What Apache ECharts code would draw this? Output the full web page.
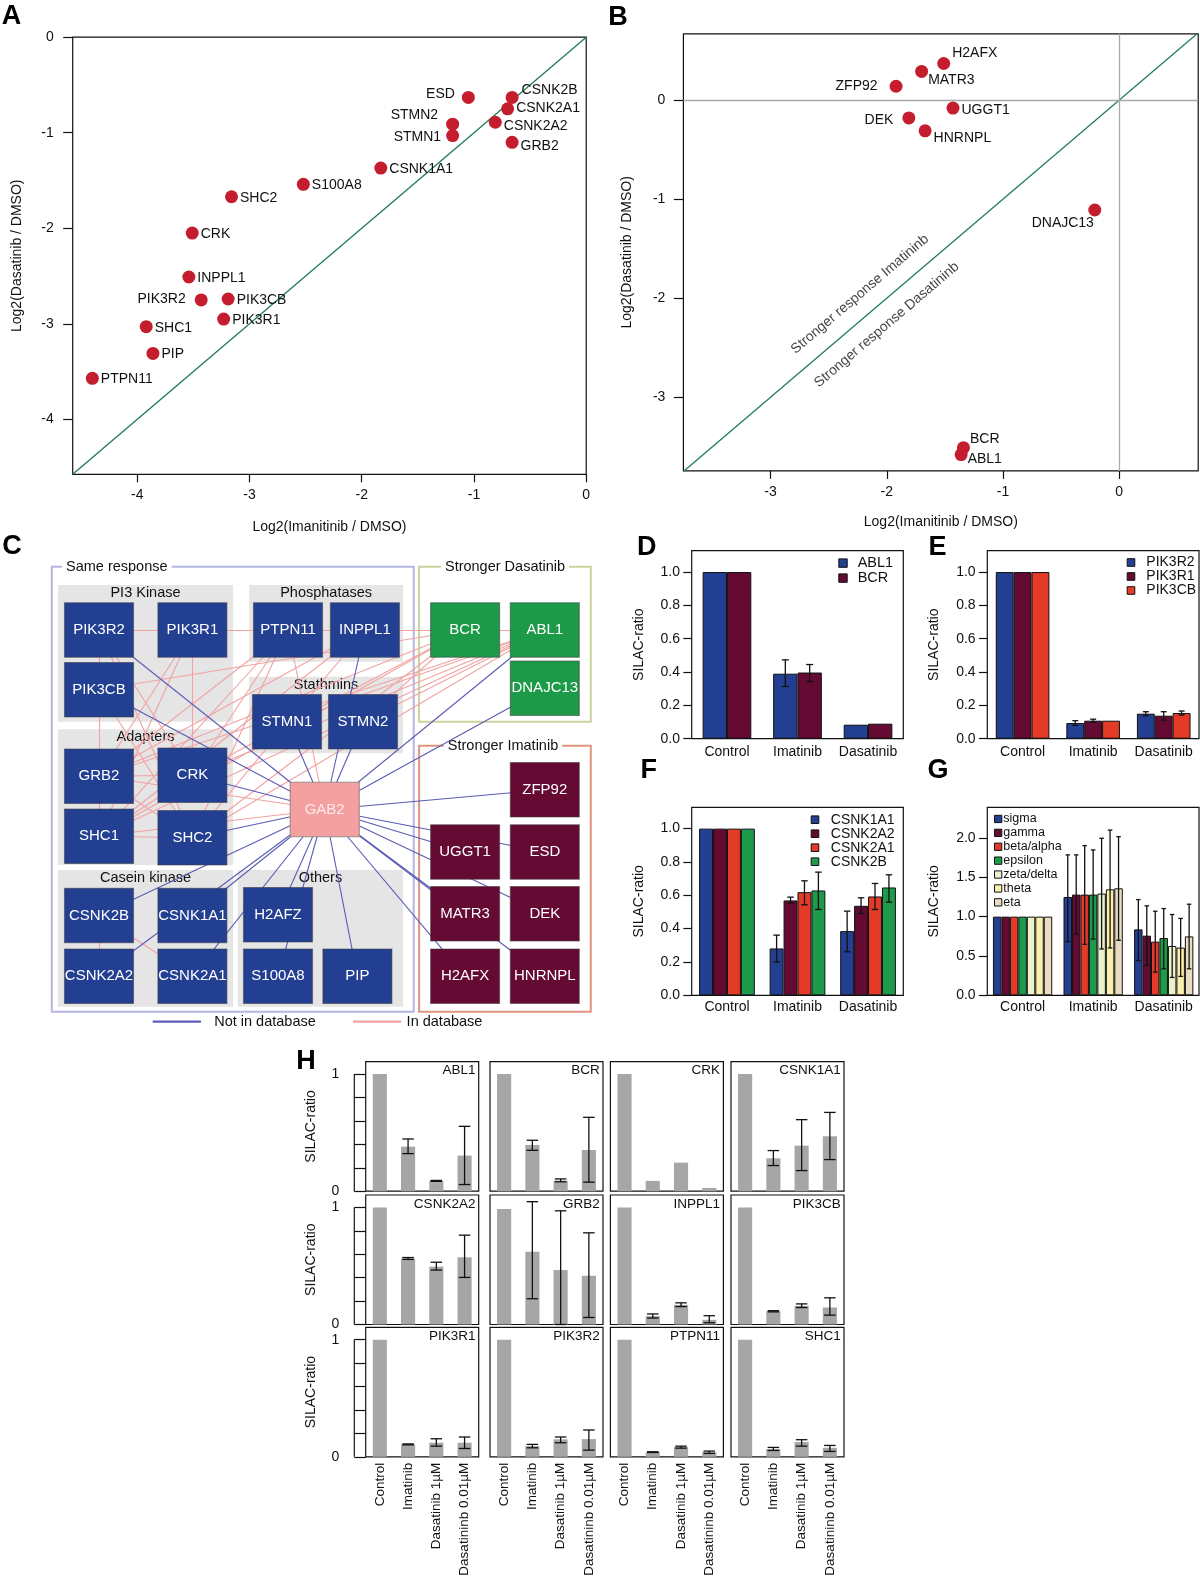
<!DOCTYPE html>
<html><head><meta charset="utf-8">
<script src="https://cdn.jsdelivr.net/npm/echarts@6/dist/echarts.min.js"></script>
<style>html,body{margin:0;padding:0;background:#fff}#c{width:1200px;height:1581px}</style>
</head><body><div id="c"></div>
<script>
// ================= DATA =================
// Panel A
const A_GENES = ['ESD','CSNK2B','CSNK2A1','CSNK2A2','GRB2','STMN2','STMN1','CSNK1A1','S100A8','SHC2','CRK','INPPL1','PIK3R2','PIK3CB','PIK3R1','SHC1','PIP','PTPN11'];
const A_IMATINIB = [-1.05,-0.66,-0.70,-0.81,-0.66,-1.19,-1.19,-1.83,-2.52,-3.16,-3.51,-3.54,-3.43,-3.19,-3.23,-3.92,-3.86,-4.40];
const A_DASATINIB = [-0.63,-0.63,-0.75,-0.89,-1.10,-0.91,-1.03,-1.37,-1.54,-1.67,-2.05,-2.51,-2.75,-2.74,-2.95,-3.03,-3.31,-3.57];
const A_TICKS = [-4,-3,-2,-1,0];
// Panel B
const B_GENES = ['H2AFX','MATR3','ZFP92','UGGT1','DEK','HNRNPL','DNAJC13','BCR','ABL1'];
const B_IMATINIB = [-1.51,-1.70,-1.92,-1.43,-1.81,-1.67,-0.21,-1.34,-1.36];
const B_DASATINIB = [0.37,0.29,0.14,-0.08,-0.18,-0.31,-1.11,-3.51,-3.58];
const B_TICKS = [-3,-2,-1,0];
const B_NOTES = ['Stronger response Imatininb','Stronger response Dasatininb'];
const B_NOTE_X = [-2.23,-2.00];
const B_NOTE_Y = [-1.96,-2.27];
// Panel C network
const NET_NODES = ['PIK3R2','PIK3R1','PTPN11','INPPL1','BCR','ABL1','PIK3CB','DNAJC13','STMN1','STMN2','GRB2','CRK','ZFP92','GAB2','SHC1','SHC2','UGGT1','ESD','CSNK2B','CSNK1A1','H2AFZ','MATR3','DEK','CSNK2A2','CSNK2A1','S100A8','PIP','H2AFX','HNRNPL'];
const NET_DASATINIB = ['BCR','ABL1','DNAJC13'];
const NET_IMATINIB = ['ZFP92','UGGT1','ESD','MATR3','DEK','H2AFX','HNRNPL'];
const NET_HUB = ['GAB2'];
const NET_LINKS_DB = [['PIK3R2','PIK3R1'],['PIK3R1','PTPN11'],['PTPN11','INPPL1'],['INPPL1','BCR'],['BCR','ABL1'],
 ['PIK3R2','PIK3CB'],['PIK3CB','GRB2'],['GRB2','SHC1'],['PIK3R1','CRK'],['PIK3R1','GRB2'],['PIK3R1','SHC1'],
 ['PIK3R2','CRK'],['PIK3R2','SHC2'],['PIK3CB','SHC2'],['PTPN11','GRB2'],['PTPN11','SHC1'],['PTPN11','SHC2'],
 ['PTPN11','GAB2'],['PTPN11','CRK'],['INPPL1','GRB2'],['INPPL1','SHC1'],['INPPL1','SHC2'],
 ['BCR','GRB2'],['BCR','SHC1'],['BCR','CRK'],['BCR','SHC2'],['BCR','STMN2'],['BCR','PIK3CB'],
 ['ABL1','GRB2'],['ABL1','CRK'],['ABL1','SHC1'],['ABL1','SHC2'],['ABL1','STMN1'],['ABL1','STMN2'],
 ['GRB2','CRK'],['SHC1','SHC2'],['GRB2','SHC2'],['SHC1','CRK'],['GRB2','GAB2'],['SHC1','GAB2'],
 ['CSNK2B','CSNK2A2'],['CSNK2B','CSNK2A1']];
const NET_LINKS_NOTDB = ['PIK3R2','PIK3CB','CRK','SHC2','CSNK2B','CSNK2A2','CSNK1A1','CSNK2A1','H2AFZ','S100A8','PIP',
 'STMN1','STMN2','INPPL1','ABL1','DNAJC13','ZFP92','UGGT1','ESD','MATR3','DEK','H2AFX','HNRNPL'].map(n => ['GAB2', n]);
// Panels D-G
const TREATMENTS = ['Control','Imatinib','Dasatinib'];
const D_NAMES = ['ABL1','BCR'];
const D_VALUES = [[1,0.39,0.084],[1,0.397,0.09]];
const D_ERR_LOW = [[null,0.313,null],[null,0.343,null]];
const D_ERR_HIGH = [[null,0.473,null],[null,0.445,null]];
const E_NAMES = ['PIK3R2','PIK3R1','PIK3CB'];
const E_VALUES = [[1,0.094,0.15],[1,0.108,0.138],[1,0.108,0.154]];
const E_ERR_LOW = [[null,0.080,0.138],[null,0.099,0.112],[null,null,0.142]];
const E_ERR_HIGH = [[null,0.108,0.162],[null,0.117,0.162],[null,null,0.166]];
const F_NAMES = ['CSNK1A1','CSNK2A2','CSNK2A1','CSNK2B'];
const F_VALUES = [[1,0.281,0.385],[1,0.569,0.537],[1,0.619,0.593],[1,0.629,0.647]];
const F_ERR_LOW = [[null,0.20,0.261],[null,0.553,0.491],[null,0.543,0.515],[null,0.515,0.559]];
const F_ERR_HIGH = [[null,0.361,0.505],[null,0.589,0.585],[null,0.687,0.671],[null,0.739,0.723]];
const G_NAMES = ['sigma','gamma','beta/alpha','epsilon','zeta/delta','theta','eta'];
const G_VALUES = [[1,1.25,0.838],[1,1.28,0.758],[1,1.28,0.682],[1,1.28,0.728],[1,1.293,0.627],[1,1.347,0.606],[1,1.36,0.749]];
const G_ERR_LOW = [[null,0.682,0.442],[null,0.779,0.383],[null,0.648,0.295],[null,0.716,0.337],[null,0.589,0.227],[null,0.602,0.24],[null,0.699,0.337]];
const G_ERR_HIGH = [[null,1.785,1.217],[null,1.785,1.137],[null,1.903,1.069],[null,1.848,1.103],[null,1.996,1.027],[null,2.10,0.977],[null,2.017,1.158]];
const RATIO_TICKS = [0,0.2,0.4,0.6,0.8,1.0];
const G_TICKS = [0,0.5,1.0,1.5,2.0];
// Panel H
const H_GENES = ['ABL1','BCR','CRK','CSNK1A1','CSNK2A2','GRB2','INPPL1','PIK3CB','PIK3R1','PIK3R2','PTPN11','SHC1'];
const H_CATEGORIES = ['Control','Imatinib','Dasatinib 1µM','Dasatininb 0.01µM'];
const H_VALUES = [
 [1,0.381,0.088,0.304],[1,0.395,0.091,0.352],[1,0.088,0.244,0.028],[1,0.281,0.389,0.469],
 [1,0.564,0.494,0.575],[0.986,0.621,0.465,0.416],[1,0.072,0.168,0.04],[1,0.113,0.159,0.145],
 [1,0.106,0.12,0.12],[1,0.091,0.149,0.151],[1,0.04,0.083,0.04],[1,0.066,0.126,0.077]];
const H_ERR_LOW = [
 [null,0.321,0.084,0.057],[null,0.349,0.08,0.077],[null,null,null,null],[null,0.219,0.176,0.27],
 [null,0.556,0.465,0.402],[null,0.22,0.0,0.06],[null,0.055,0.153,0.015],[null,0.108,0.145,0.08],
 [null,0.102,0.091,0.071],[null,0.077,0.12,0.057],[null,0.037,0.074,0.029],[null,0.054,0.091,0.046]];
const H_ERR_HIGH = [
 [null,0.446,0.092,0.554],[null,0.435,0.105,0.631],[null,null,null,null],[null,0.347,0.611,0.673],
 [null,0.572,0.532,0.763],[null,1.049,0.971,0.783],[null,0.09,0.185,0.075],[null,0.118,0.176,0.228],
 [null,0.11,0.154,0.169],[null,0.106,0.169,0.229],[null,0.043,0.091,0.049],[null,0.08,0.146,0.097]];
const H_TICKS = [0,0.2,0.4,0.6,0.8,1];
const H_LABEL_TICKS = [0,1];

// ================= STYLE / LAYOUT =================
const FONT = '"Liberation Sans", Arial, Helvetica, sans-serif';
const BLACK = '#111';
const COL = {blue:'#233f92', maroon:'#640a33', red:'#e33b28', green:'#1e9a4b', zeta:'#e9f2cd', theta:'#fbf0a9', eta:'#eadcc3'};
const D_COLORS = [COL.blue, COL.maroon];
const E_COLORS = [COL.blue, COL.maroon, COL.red];
const F_COLORS = [COL.blue, COL.maroon, COL.red, COL.green];
const G_COLORS = [COL.blue, COL.maroon, COL.red, COL.green, COL.zeta, COL.theta, COL.eta];
const POINT_RED = '#c41e2e';
const DIAG_GREEN = '#1f7a50';

const A_LABEL = {ESD:['left',-2,-3], CSNK2B:['right',-2,-7], CSNK2A1:['right',-3,-1], CSNK2A2:['right',-3,4], GRB2:['right',-3,4],
 STMN2:['left',-3,-9], STMN1:['left',0,2], PIK3R2:['left',-4,-1]};
const B_LABEL = {H2AFX:['right',-3,-10], MATR3:['right',-5,9], ZFP92:['left',-7,0], UGGT1:['right',-3,2], DEK:['left',-4,2],
 HNRNPL:['right',-3,7], DNAJC13:['bottom',-32,-5], BCR:['right',-5,-8], ABL1:['right',-5,5]};

// network diagram layout (diagram units relative to panel C origin)
const C_ORIGIN = [40, 540], C_SIZE = [560, 490];
const C_NODE_POS = {PIK3R2:[59,90],PIK3R1:[152.4,90],PTPN11:[248,90],INPPL1:[324.9,90],BCR:[425.1,90],ABL1:[504.8,90],
 PIK3CB:[59,149.7],DNAJC13:[504.8,148.2],STMN1:[247,181.7],STMN2:[323,181.7],GRB2:[59,236.3],CRK:[152.4,235.3],
 ZFP92:[504.8,249.7],GAB2:[284.7,269.5],SHC1:[59,296.3],SHC2:[152.4,297.8],UGGT1:[425.1,312],ESD:[504.8,312],
 CSNK2B:[59,375.5],CSNK1A1:[152.4,375.5],H2AFZ:[238,374.8],MATR3:[425.1,373.8],DEK:[504.8,373.8],
 CSNK2A2:[59,436.3],CSNK2A1:[152.4,436.3],S100A8:[238,436.3],PIP:[317.4,436.3],H2AFX:[425.1,436.3],HNRNPL:[504.8,436.3]};
const C_FRAMES = [
 {label:'Same response', x0:11.8,y0:26.7,x1:373.7,y1:471.7,color:'#b5b5e4', tx:22, align:'left'},
 {label:'Stronger Dasatinib', x0:379.1,y0:26.7,x1:550.8,y1:181.7,color:'#c9d49c', tx:465, align:'center'},
 {label:'Stronger Imatinib', x0:379.1,y0:205.7,x1:550.8,y1:471.7,color:'#e0957f', tx:463, align:'center'}];
const C_GROUPS = [
 {label:'PI3 Kinase', x0:17.9,y0:45,x1:193.1,y1:181.7},
 {label:'Phosphatases', x0:209.2,y0:45,x1:363,y1:121.7},
 {label:'Stathmins', x0:209.2,y0:136.7,x1:363,y1:213.3},
 {label:'Adapters', x0:17.9,y0:189.3,x1:193.1,y1:325},
 {label:'Casein kinase', x0:17.9,y0:330,x1:193.1,y1:466.7},
 {label:'Others', x0:197.8,y0:330,x1:363,y1:466.7}];

// ================= BUILD =================
const chart = echarts.init(document.getElementById('c'), null, {renderer:'canvas', width:1200, height:1581});
const grid = [], xAxis = [], yAxis = [], series = [], legend = [], title = [], graphic = [];
const txt = (size, extra) => Object.assign({fontSize:size, color:BLACK, fontFamily:FONT}, extra || {});

function addGrid(r, show) {
  grid.push(Object.assign({show: show !== false, borderColor:BLACK, borderWidth:1.2, backgroundColor:'transparent',
    containLabel:false, outerBoundsMode:'none'}, r));
  return grid.length - 1;
}
function valueAxis(gi, min, max, ticks, labels, o) {
  return Object.assign({type:'value', gridIndex:gi, min, max, splitLine:{show:false},
    axisLine:{show:false, onZero:false}, axisTick:{show:true, length:8, customValues:ticks, lineStyle:{color:BLACK, width:1.2}},
    axisLabel:Object.assign({customValues:labels}, txt(14), {margin:o.margin, formatter:o.fmt}),
    name:o.name, nameLocation:'middle', nameGap:o.nameGap, nameTextStyle:txt(14)}, o.extra || {});
}

// ---------- scatter panels A & B ----------
function scatterPanel(rect, range, ticks, axisNames, gaps, margins, genes, xs, ys, labelMap, deco) {
  const gi = addGrid(rect);
  const xi = xAxis.length, yi = yAxis.length;
  xAxis.push(valueAxis(gi, range[0], range[1], ticks[0], ticks[0], {margin:margins[0], name:axisNames[0], nameGap:gaps[0]}));
  yAxis.push(valueAxis(gi, range[2], range[3], ticks[1], ticks[1], {margin:margins[1], name:axisNames[1], nameGap:gaps[1],
    extra:{axisTick:{show:true, length:9.5, customValues:ticks[1], lineStyle:{color:BLACK, width:1.2}}}}));
  const lo = Math.min(range[0], range[2]), hi = Math.max(range[1], range[3]);
  series.push({type:'line', xAxisIndex:xi, yAxisIndex:yi, data:[[lo,lo],[hi,hi]], symbol:'none', silent:true, z:3,
    lineStyle:{color:DIAG_GREEN, width:1.3}, clip:true,
    markLine: deco ? {silent:true, symbol:'none', label:{show:false}, lineStyle:{color:'#a9a9a9', type:'solid', width:1.3},
      data:[{xAxis:0},{yAxis:0}]} : undefined});
  series.push({type:'scatter', xAxisIndex:xi, yAxisIndex:yi, symbolSize:13, silent:true, z:5, emphasis:{disabled:true},
    itemStyle:{color:POINT_RED, opacity:1},
    label:Object.assign({show:true, formatter:'{b}'}, txt(14)),
    data:genes.map((g,i) => {
      const l = labelMap[g] || ['right',-3,1];
      return {name:g, value:[xs[i], ys[i]], label:{position:l[0], offset:[l[1], l[2]]}};
    })});
  return {xi, yi, gi};
}
const A = scatterPanel({left:72.7, top:37.2, width:513.5, height:437.1}, [-4.575,0,-4.575,0], [A_TICKS,A_TICKS],
  ['Log2(Imanitinib / DMSO)','Log2(Dasatinib / DMSO)'], [46,49], [14,19], A_GENES, A_IMATINIB, A_DASATINIB, A_LABEL, false);
const bRect = {left:683.4, top:33.8, width:514.8, height:437.1};
const bRange = [-3.75,0.68,-3.745,0.67];
const B = scatterPanel(bRect, bRange, [B_TICKS,B_TICKS],
  ['Log2(Imanitinib / DMSO)','Log2(Dasatinib / DMSO)'], [44.5,49], [14,18], B_GENES, B_IMATINIB, B_DASATINIB, B_LABEL, true);
const bAngle = Math.atan((bRect.height/(bRange[3]-bRange[2]))/(bRect.width/(bRange[1]-bRange[0])))*180/Math.PI;
series.push({type:'scatter', xAxisIndex:B.xi, yAxisIndex:B.yi, symbolSize:1, silent:true, z:4, itemStyle:{color:'rgba(0,0,0,0)'},
  label:Object.assign({show:true, position:'inside', formatter:'{b}', rotate:bAngle}, txt(14)),
  data:B_NOTES.map((t,i) => ({name:t, value:[B_NOTE_X[i], B_NOTE_Y[i]]}))});

// ---------- network panel C ----------
const cgi = addGrid({left:C_ORIGIN[0], top:C_ORIGIN[1], width:C_SIZE[0], height:C_SIZE[1]}, false);
const cxi = xAxis.length, cyi = yAxis.length;
xAxis.push({type:'value', gridIndex:cgi, min:0, max:C_SIZE[0], show:false, splitLine:{show:false}});
yAxis.push({type:'value', gridIndex:cgi, min:0, max:C_SIZE[1], inverse:true, show:false, splitLine:{show:false}});
series.push({type:'custom', xAxisIndex:cxi, yAxisIndex:cyi, silent:true, z:1, data:[[0,0]],
  renderItem(params, api) {
    const ch = [];
    const rect = (b) => { const p0 = api.coord([b.x0,b.y0]), p1 = api.coord([b.x1,b.y1]);
      return {x:p0[0], y:p0[1], width:p1[0]-p0[0], height:p1[1]-p0[1]}; };
    C_FRAMES.forEach(f => ch.push({type:'rect', shape:rect(f), style:{fill:'none', stroke:f.color, lineWidth:2}}));
    C_GROUPS.forEach(g => ch.push({type:'rect', shape:rect(g), style:{fill:'#e5e5e6', stroke:'none'}}));
    C_GROUPS.forEach(g => { const p = api.coord([(g.x0+g.x1)/2, g.y0+8]);
      ch.push({type:'text', x:p[0], y:p[1], style:{text:g.label, fill:BLACK, font:'14.5px '+FONT, align:'center', verticalAlign:'middle', textAlign:'center', textVerticalAlign:'middle'}}); });
    C_FRAMES.forEach(f => { const p = api.coord([f.tx, f.y0]);
      ch.push({type:'text', x:p[0], y:p[1], style:{text:f.label, fill:BLACK, font:'14.5px '+FONT, align:f.align, verticalAlign:'middle',
        textAlign:f.align, textVerticalAlign:'middle', backgroundColor:'#fff', padding:[1,4]}}); });
    return {type:'group', children:ch};
  }});
series.push({type:'lines', coordinateSystem:'cartesian2d', xAxisIndex:cxi, yAxisIndex:cyi, silent:true, z:2,
  lineStyle:{color:'#f3a2a2', width:1.1, opacity:1},
  data:NET_LINKS_DB.map(([a,b]) => ({coords:[C_NODE_POS[a], C_NODE_POS[b]]}))});
series.push({type:'lines', coordinateSystem:'cartesian2d', xAxisIndex:cxi, yAxisIndex:cyi, silent:true, z:3,
  lineStyle:{color:'#5a5cb3', width:1.1, opacity:1},
  data:NET_LINKS_NOTDB.map(([a,b]) => ({coords:[C_NODE_POS[a], C_NODE_POS[b]]}))});
const nodeColor = n => NET_HUB.includes(n) ? '#f4a0a0' : NET_DASATINIB.includes(n) ? '#1c9a48' : NET_IMATINIB.includes(n) ? '#640a33' : '#233f92';
series.push({type:'scatter', xAxisIndex:cxi, yAxisIndex:cyi, symbol:'rect', symbolSize:[69,54.5], silent:true, z:6, emphasis:{disabled:true},
  label:{show:true, position:'inside', formatter:'{b}', fontSize:15, fontFamily:FONT, color:'#fff'},
  data:NET_NODES.map(n => ({name:n, value:C_NODE_POS[n],
    itemStyle:{color:nodeColor(n), opacity:1, borderColor:NET_HUB.includes(n) ? '#9a8a8a' : 'rgba(60,60,60,0.55)', borderWidth:1},
    label:{color: NET_HUB.includes(n) ? '#fdeaea' : '#fff'}}))});
// C legend
graphic.push({type:'line', shape:{x1:152.7,y1:1021.7,x2:201,y2:1021.7}, style:{stroke:'#5a5cb3', lineWidth:2.2}});
graphic.push({type:'text', x:214.2, y:1021.7, style:{text:'Not in database', font:'14.5px '+FONT, fill:BLACK, textVerticalAlign:'middle', verticalAlign:'middle'}});
graphic.push({type:'line', shape:{x1:353,y1:1021.7,x2:401.2,y2:1021.7}, style:{stroke:'#f3a2a2', lineWidth:2.2}});
graphic.push({type:'text', x:406.6, y:1021.7, style:{text:'In database', font:'14.5px '+FONT, fill:BLACK, textVerticalAlign:'middle', verticalAlign:'middle'}});

// ---------- error bar helper ----------
function errSeries(xi, yi, lo, hi, nBars, idx, catGap, capW) {
  const data = [];
  lo.forEach((v,j) => { if (v != null) data.push([j, v, hi[j]]); });
  return {type:'custom', xAxisIndex:xi, yAxisIndex:yi, data, z:5, silent:true, encode:{x:0, y:[1,2]},
    renderItem(params, api) {
      const j = api.value(0);
      const band = api.size([1,0])[0];
      const groupW = band*(1-catGap), bw = groupW/nBars;
      const cx = api.coord([j,0])[0] - groupW/2 + (idx+0.5)*bw;
      const y1 = api.coord([j, api.value(1)])[1], y2 = api.coord([j, api.value(2)])[1];
      const st = {stroke:BLACK, lineWidth:1.3};
      return {type:'group', children:[
        {type:'line', shape:{x1:cx,y1:y1,x2:cx,y2:y2}, style:st},
        {type:'line', shape:{x1:cx-capW/2,y1:y1,x2:cx+capW/2,y2:y1}, style:st},
        {type:'line', shape:{x1:cx-capW/2,y1:y2,x2:cx+capW/2,y2:y2}, style:st}]};
    }};
}

// ---------- grouped bar panels D-G ----------
function barPanel(rect, names, colors, values, lo, hi, yMax, ticks, catGap, capW, lg, xMargin) {
  const gi = addGrid(rect);
  const xi = xAxis.length, yi = yAxis.length;
  xAxis.push({type:'category', gridIndex:gi, data:TREATMENTS, axisLine:{show:false, onZero:false}, axisTick:{show:false},
    axisLabel:Object.assign({interval:0}, txt(14), {margin:xMargin})});
  yAxis.push(valueAxis(gi, 0, yMax, ticks, ticks, {margin:11.7, name:'SILAC-ratio', nameGap:45.7, fmt:v => v.toFixed(1),
    extra:{axisTick:{show:true, length:8.4, customValues:ticks, lineStyle:{color:BLACK, width:1.2}}}}));
  names.forEach((n,i) => series.push({type:'bar', name:n, xAxisIndex:xi, yAxisIndex:yi, data:values[i], silent:true, z:2,
    barGap:'0%', barCategoryGap:(catGap*100)+'%', itemStyle:{color:colors[i], borderColor:BLACK, borderWidth:1}}));
  names.forEach((n,i) => series.push(errSeries(xi, yi, lo[i], hi[i], names.length, i, catGap, capW)));
  legend.push({orient:'vertical', left:lg.left, top:lg.top, padding:0, itemGap:0, itemWidth:lg.icon, itemHeight:lg.icon,
    icon:'rect', selectedMode:false, data:names, itemStyle:{borderColor:BLACK, borderWidth:1},
    textStyle:txt(lg.font, {lineHeight:lg.lh, padding:[0,0,0,lg.pad]})});
}
barPanel({left:691.7, top:550.7, width:211.6, height:188}, D_NAMES, D_COLORS, D_VALUES, D_ERR_LOW, D_ERR_HIGH, 1.128, RATIO_TICKS,
  0.31, 7, {left:838.3, top:555.6, icon:8.4, font:14.5, lh:13.3, pad:5.5}, 6);
barPanel({left:987.3, top:550.7, width:211.7, height:188}, E_NAMES, E_COLORS, E_VALUES, E_ERR_LOW, E_ERR_HIGH, 1.128, RATIO_TICKS,
  0.24, 6, {left:1126.7, top:555.5, icon:7.6, font:14, lh:13.5, pad:6.5}, 6);
barPanel({left:691.7, top:807.3, width:211.6, height:188}, F_NAMES, F_COLORS, F_VALUES, F_ERR_LOW, F_ERR_HIGH, 1.128, RATIO_TICKS,
  0.21, 6.5, {left:810.7, top:812.7, icon:7.6, font:14, lh:11.1, pad:7}, 5);
barPanel({left:987.3, top:807.3, width:211.7, height:188}, G_NAMES, G_COLORS, G_VALUES, G_ERR_LOW, G_ERR_HIGH, 2.39, G_TICKS,
  0.16, 4.5, {left:994, top:812, icon:7.3, font:12.5, lh:13.9, pad:-3.5}, 5);

// ---------- small multiples H ----------
const H_COL_LEFT = [365.7, 490, 610.4, 731], H_ROW_TOP = [1061.7, 1195, 1327.3], H_W = 113, H_H = 129.5, H_AXIS_OFFSET = 11.4;
H_GENES.forEach((g,k) => {
  const r = Math.floor(k/4), c = k % 4;
  const gi = addGrid({left:H_COL_LEFT[c], top:H_ROW_TOP[r], width:H_W, height:H_H});
  const xi = xAxis.length, yi = yAxis.length;
  xAxis.push({type:'category', gridIndex:gi, data:H_CATEGORIES, axisLine:{show:false, onZero:false}, axisTick:{show:false},
    axisLabel:Object.assign({show:r === 2, interval:0, rotate:90}, txt(13.5), {margin:6})});
  yAxis.push({type:'value', gridIndex:gi, min:0, max:1.106, show:c === 0, offset:H_AXIS_OFFSET, splitLine:{show:false},
    axisLine:{show:false, onZero:false},
    axisTick:{show:true, inside:true, length:H_AXIS_OFFSET, customValues:H_TICKS, lineStyle:{color:BLACK, width:1.2}},
    axisLabel:Object.assign({customValues:H_LABEL_TICKS}, txt(14), {margin:15}),
    name:'SILAC-ratio', nameLocation:'middle', nameGap:36, nameTextStyle:txt(14)});
  series.push({type:'bar', xAxisIndex:xi, yAxisIndex:yi, data:H_VALUES[k], silent:true, z:2, barCategoryGap:'50%',
    itemStyle:{color:'#a6a6a6'}});
  series.push(errSeries(xi, yi, H_ERR_LOW[k], H_ERR_HIGH[k], 1, 0, 0.5, 11.5));
  if (c === 0) {
    // R-style axis line spanning only the first..last tick (0..1)
    series.push({type:'custom', xAxisIndex:xi, yAxisIndex:yi, silent:true, z:5, clip:false, data:[[0, H_TICKS[0], H_TICKS[H_TICKS.length-1]]],
      encode:{x:0, y:[1,2]},
      renderItem(params, api) {
        const x = params.coordSys.x - H_AXIS_OFFSET;
        const y0 = api.coord([0, api.value(1)])[1], y1 = api.coord([0, api.value(2)])[1];
        return {type:'line', shape:{x1:x, y1:y0, x2:x, y2:y1}, style:{stroke:BLACK, lineWidth:1.2}};
      }});
  }
  title.push({text:g, right:1200-(H_COL_LEFT[c]+H_W)+3.3, top:H_ROW_TOP[r]+2, padding:0,
    textStyle:txt(13.5, {fontWeight:'normal'})});
});

// ---------- panel letters ----------
const PANEL_LETTERS = [['A',11.5,17],['B',618,17.7],['C',12,547],['D',646.7,547.5],['E',937.5,547.5],['F',648.7,770.7],['G',938,770.7],['H',306,1062]];
PANEL_LETTERS.forEach(([t,x,y]) => graphic.push({type:'text', x, y, z:100,
  style:{text:t, font:'bold 27px '+FONT, fill:'#000', align:'center', verticalAlign:'middle', textAlign:'center', textVerticalAlign:'middle'}}));

chart.setOption({animation:false, backgroundColor:'#fff', textStyle:{fontFamily:FONT},
  grid, xAxis, yAxis, series, legend, title, graphic});
</script></body></html>
